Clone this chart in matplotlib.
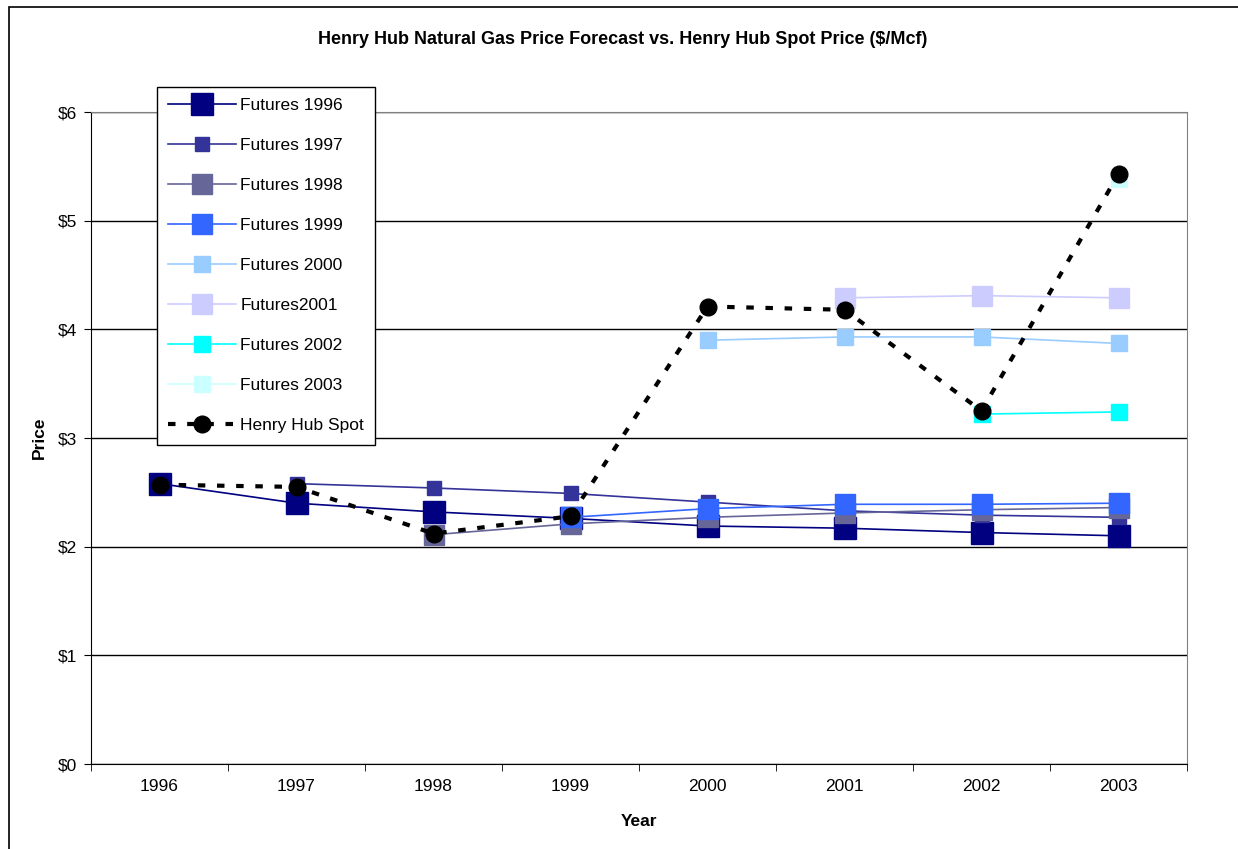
import matplotlib
matplotlib.use("Agg")
import matplotlib.pyplot as plt
from matplotlib.patches import Rectangle

plt.rcParams['font.family'] = ['Liberation Sans', 'DejaVu Sans']

years = ["1996", "1997", "1998", "1999", "2000", "2001", "2002", "2003"]

fut_1996 = [2.58, 2.40, 2.32, 2.26, 2.19, 2.17, 2.13, 2.10]
fut_1997 = [None, 2.58, 2.54, 2.49, 2.41, 2.33, 2.29, 2.27]
fut_1998 = [None, None, 2.11, 2.21, 2.27, 2.31, 2.34, 2.36]
fut_1999 = [None, None, None, 2.27, 2.35, 2.39, 2.39, 2.40]
fut_2000 = [None, None, None, None, 3.90, 3.93, 3.93, 3.87]
fut_2001 = [None, None, None, None, None, 4.29, 4.31, 4.29]
fut_2002 = [None, None, None, None, None, None, 3.22, 3.24]
fut_2003 = [None, None, None, None, None, None, None, 5.38]
spot = [2.57, 2.55, 2.12, 2.28, 4.21, 4.18, 3.25, 5.43]

series = [
    ("Futures 1996", fut_1996, "#000080", 16),
    ("Futures 1997", fut_1997, "#333399", 10),
    ("Futures 1998", fut_1998, "#666699", 14),
    ("Futures 1999", fut_1999, "#3366FF", 14),
    ("Futures 2000", fut_2000, "#99CCFF", 11),
    ("Futures2001", fut_2001, "#CCCCFF", 15),
    ("Futures 2002", fut_2002, "#00FFFF", 11),
    ("Futures 2003", fut_2003, "#CCFFFF", 11),
]

fig = plt.figure(figsize=(12.38, 8.49), dpi=100)
ax = fig.add_axes([91/1238, 85/849, 1096/1238, 652/849])

x = list(range(len(years)))
for name, vals, col, ms in series:
    xs = [i for i, v in zip(x, vals) if v is not None]
    ys = [v for v in vals if v is not None]
    ax.plot(xs, ys, color=col, lw=1.2, marker="s", ms=ms, mec=col, mfc=col, label=name)

ax.plot(x, spot, color="black", lw=3, ls=(0, (1.8, 2.8)), marker="o", ms=12, label="Henry Hub Spot")

ax.set_xlim(-0.5, 7.5)
ax.set_ylim(0, 6)
ax.set_yticks(range(7))
ax.set_yticklabels(["\\$%d" % i for i in range(7)], fontsize=12.5)
ax.set_xticks(x)
ax.set_xticklabels(years, fontsize=12.5)
ax.set_xticks([i - 0.5 for i in range(9)], minor=True)
ax.tick_params(axis="x", which="major", length=0, pad=11)
ax.tick_params(axis="x", which="minor", length=5, direction="out", color="black")
ax.tick_params(axis="y", length=5, direction="out", pad=5)
ax.grid(axis="y", color="black", lw=1)
ax.set_axisbelow(True)
for s in ["top", "right"]:
    ax.spines[s].set_color("#808080")
for s in ["left", "bottom"]:
    ax.spines[s].set_color("black")

ax.set_xlabel("Year", fontsize=12.5, fontweight="bold", labelpad=14)
ax.set_ylabel("Price", fontsize=12.5, fontweight="bold", labelpad=8)
fig.text(0.503, 1 - 40/849, "Henry Hub Natural Gas Price Forecast vs. Henry Hub Spot Price (\\$/Mcf)",
         ha="center", va="center", fontsize=13, fontweight="bold")

leg = ax.legend(loc="upper left", bbox_to_anchor=(157/1238, 1 - 87/849), bbox_transform=fig.transFigure,
                fontsize=12.5, numpoints=1, labelspacing=1.43, handlelength=3.9, handletextpad=0.25,
                borderpad=0.65, borderaxespad=0, fancybox=False, framealpha=1, edgecolor="black")
leg.get_frame().set_linewidth(1)

fig.patches.append(Rectangle((9/1238, -0.1), 1.2, 1 - 7/849 + 0.1, transform=fig.transFigure,
                             fill=False, edgecolor="black", lw=1.2))

fig.savefig("out.png", dpi=100)
